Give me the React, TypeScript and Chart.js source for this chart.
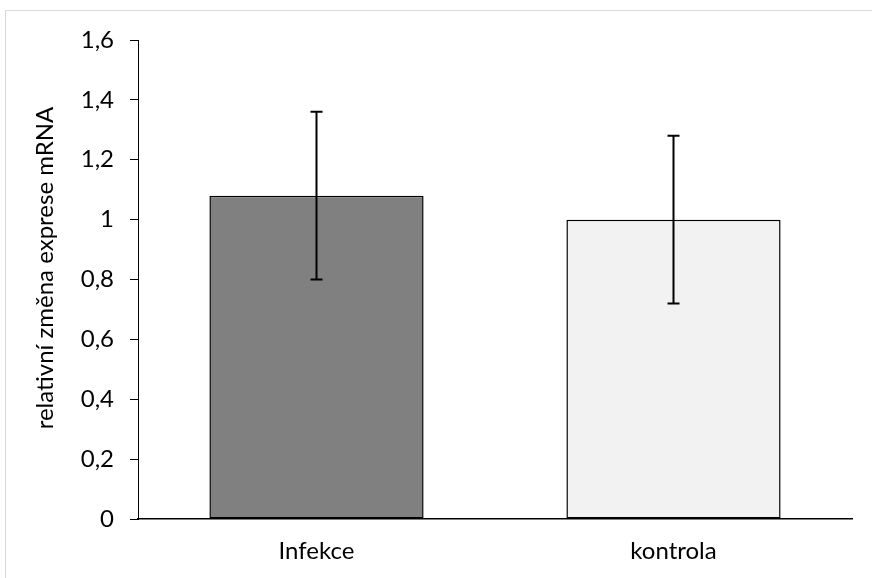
import React, { useEffect, useRef } from "react";
import { Chart, registerables } from "chart.js";

Chart.register(...registerables);

const categories = ["Infekce", "kontrola"];
const values = [1.08, 1.0];
const errLow = [0.8, 0.72];
const errHigh = [1.36, 1.28];
const barColors = ["#808080", "#f2f2f2"];
const yTicks = [0, 0.2, 0.4, 0.6, 0.8, 1, 1.2, 1.4, 1.6];
const yTitle = "relativní změna exprese mRNA";

const FONT = "Lato, 'Open Sans', sans-serif";

const frame = {
  id: "frame",
  beforeDraw(chart: any) {
    const ctx = chart.ctx;
    ctx.save();
    ctx.fillStyle = "#ffffff";
    ctx.fillRect(0, 0, chart.width, chart.height);
    ctx.strokeStyle = "#d9d9d9";
    ctx.lineWidth = 1;
    ctx.strokeRect(5.5, 10.5, 2000, 2000);
    ctx.restore();
  },
};

const axisTitle = {
  id: "axisTitle",
  afterDraw(chart: any) {
    const ctx = chart.ctx;
    ctx.save();
    ctx.translate(53, 268);
    ctx.rotate(-Math.PI / 2);
    ctx.fillStyle = "#000000";
    ctx.font = `24px ${FONT}`;
    ctx.textAlign = "center";
    ctx.textBaseline = "alphabetic";
    ctx.fillText(yTitle, 0, 0);
    ctx.restore();
  },
};

const errorBars = {
  id: "errorBars",
  afterDatasetsDraw(chart: any) {
    const ctx = chart.ctx;
    const meta = chart.getDatasetMeta(0);
    const y = chart.scales.y;
    ctx.save();
    ctx.strokeStyle = "#000000";
    ctx.lineWidth = 2;
    meta.data.forEach((bar: any, i: number) => {
      const x = bar.x;
      const yl = y.getPixelForValue(errLow[i]);
      const yh = y.getPixelForValue(errHigh[i]);
      ctx.beginPath();
      ctx.moveTo(x, yl);
      ctx.lineTo(x, yh);
      ctx.moveTo(x - 6, yl);
      ctx.lineTo(x + 6, yl);
      ctx.moveTo(x - 6, yh);
      ctx.lineTo(x + 6, yh);
      ctx.stroke();
    });
    ctx.restore();
  },
};

export default function App() {
  const ref = useRef<HTMLCanvasElement>(null);
  useEffect(() => {
    if (!ref.current) return;
    const chart = new Chart(ref.current, {
      type: "bar",
      data: {
        labels: categories,
        datasets: [
          {
            data: values,
            backgroundColor: barColors,
            borderColor: "#000000",
            borderWidth: 1.5,
            borderSkipped: false,
            barPercentage: 0.6,
            categoryPercentage: 1,
          },
        ],
      },
      options: {
        responsive: false,
        animation: false,
        layout: { padding: { top: 40, right: 20, left: 0, bottom: 0 } },
        plugins: { legend: { display: false }, tooltip: { enabled: false } },
        scales: {
          x: {
            grid: { display: false, drawTicks: false },
            border: { display: true, color: "#000000", width: 1.5 },
            ticks: { color: "#000000", font: { family: FONT, size: 24 }, padding: 18 },
            afterFit(scale: any) {
              scale.height = 59;
            },
          },
          y: {
            min: 0,
            max: 1.6,
            afterBuildTicks(scale: any) {
              scale.ticks = yTicks.map((v) => ({ value: v }));
            },
            grid: { display: true, drawOnChartArea: false, drawTicks: true, tickLength: 8, color: "#000000" },
            border: { display: true, color: "#000000", width: 1 },
            ticks: {
              color: "#000000",
              font: { family: FONT, size: 24 },
              padding: 16,
              callback: (v: any) => String(Number(v).toFixed(1).replace(/\.0$/, "")).replace(".", ","),
            },
            afterFit(scale: any) {
              scale.width = 138;
            },
          },
        },
      },
      plugins: [frame, errorBars, axisTitle],
    });
    return () => chart.destroy();
  }, []);
  return (
    <div style={{ position: "fixed", left: 0, top: 0, width: 872, height: 578, background: "#fff" }}>
      <canvas ref={ref} width={872} height={578} />
    </div>
  );
}
